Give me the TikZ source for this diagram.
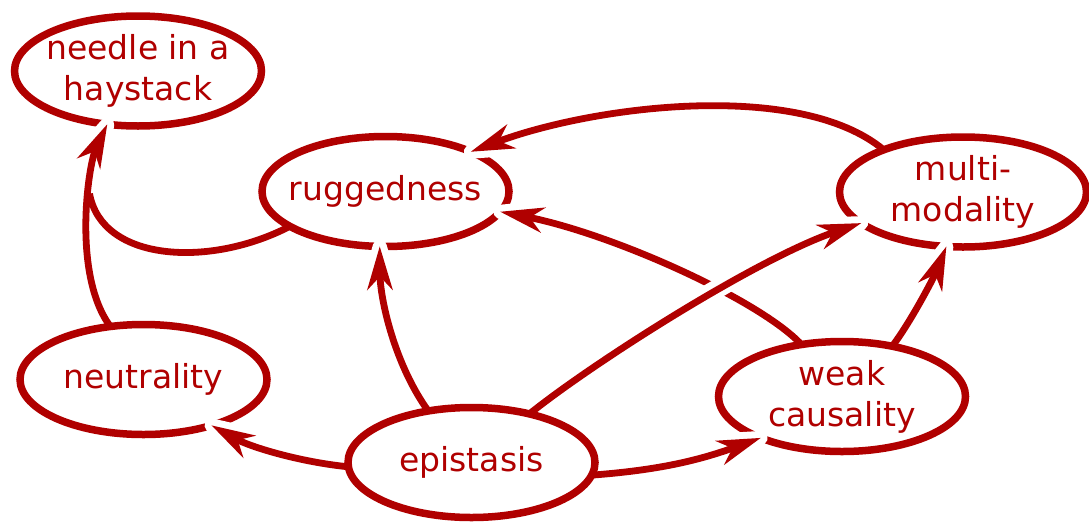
\documentclass[tikz,border=0pt]{standalone}
\usepackage{fontspec}
\setmainfont{DejaVu Sans}
\usetikzlibrary{shapes.geometric,decorations.markings}
\definecolor{dred}{RGB}{176,0,0}
\tikzset{
  blob/.style={ellipse, draw=dred, line width=7.5pt, fill=white,
    minimum width=247pt, minimum height=110pt, inner sep=0pt, outer sep=0pt},
  txt/.style={text=dred, align=center, font=\fontsize{33}{41}\selectfont, inner sep=0pt},
  % arrow head: white halo underneath, red head on top
  headhalo/.pic={\fill[white, draw=white, line width=14pt, line join=round,
      shorten >=0pt, shorten <=0pt]
      (0pt,0pt) -- (-44pt,13pt) -- (-30pt,0pt) -- (-44pt,-13pt) -- cycle;},
  headfill/.pic={\fill[dred, shorten >=0pt, shorten <=0pt]
      (0pt,0pt) -- (-44pt,13pt) -- (-30pt,0pt) -- (-44pt,-13pt) -- cycle;},
  link/.style={draw=dred, line width=6.8pt, shorten >=26pt,
    preaction={decorate, decoration={markings, mark=at position -0.05pt with {\pic[transform shape] {headhalo};}}},
    postaction={decorate, decoration={markings, mark=at position -0.05pt with {\pic[transform shape] {headfill};}}}},
  plain/.style={draw=dred, line width=6.8pt},
  gap/.style={preaction={draw=white, line width=19pt, shorten <=22pt, shorten >=40pt}},
}
\begin{document}
\begin{tikzpicture}[x=1pt, y=1pt]
\useasboundingbox (0,0) rectangle (1089,-525);

% ellipses
\node[blob] (nh) at (138,-71) {};
\node[blob] (ru) at (385.5,-191.5) {};
\node[blob] (mm) at (963,-192) {};
\node[blob] (ne) at (143.5,-379.5) {};
\node[blob] (ep) at (471.5,-462.5) {};
\node[blob] (wc) at (842,-396.5) {};

% labels
\node[txt] (nht) at (nh) {needle in a\\haystack};
\node[txt] (rut) at (ru) {ruggedness};
\node[txt] (mmt) at (mm) {multi-\\modality};
\node[txt] (net) at (ne) {neutrality};
\node[txt] (ept) at (ep) {epistasis};
\node[txt] (wct) at (wc) {weak\\causality};

% connectors
\path[link] (ne.122) .. controls (72,-275) and (88,-165) .. (nh.-120)
  coordinate[pos=0.62] (m);
\path[plain] (ru.-160) .. controls (210,-268) and (102,-262) .. (m);
\path[link] (mm.152) .. controls (800,-80) and (595,-105) .. (ru.25);
\path[link] (wc.128) .. controls (760,-300) and (612,-233.5) .. (ru.-10);
\path[link] (wc.45) .. controls (912,-320) and (935,-275) .. (mm.-107);
\path[link] (ep.130) .. controls (395,-365) and (380,-300) .. (ru.-96);
\path[link] (ep.182) .. controls (300,-462) and (250,-447) .. (ne.-34);
\path[link] (ep.-6) .. controls (660,-470) and (700,-460) .. (wc.-153);
\path[link, gap] (ep.40) .. controls (590,-365) and (757,-258) .. (mm.-163);
\end{tikzpicture}
\end{document}
